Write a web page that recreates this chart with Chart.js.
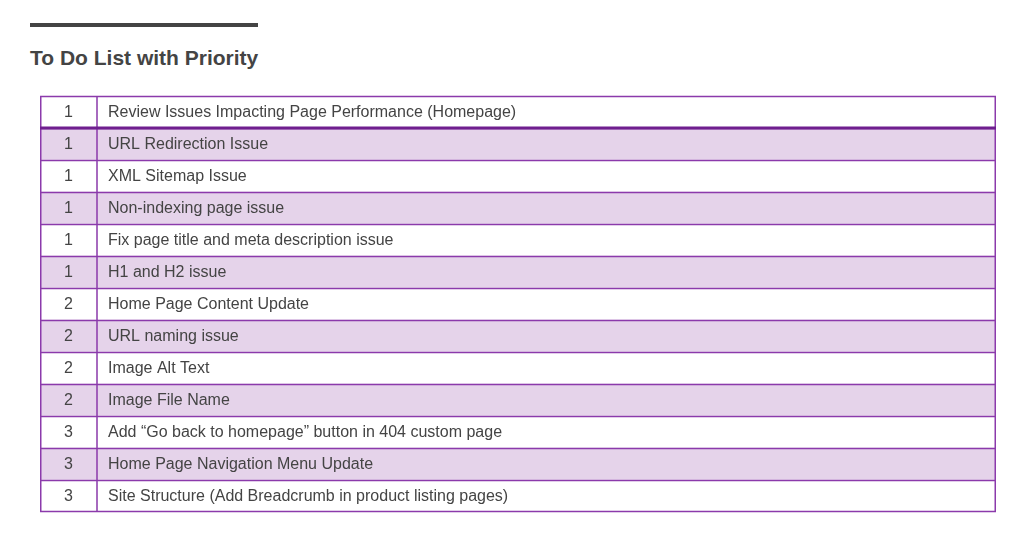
<!DOCTYPE html>
<html>
<head>
<meta charset="utf-8">
<script src="https://cdn.jsdelivr.net/npm/chart.js@4"></script>
<style>
  body { margin: 0; background: #fff; font-family: "Liberation Sans", Arial, sans-serif; }
  #rule { position: absolute; left: 30px; top: 23px; width: 228px; height: 4px; background: #444; }
  #title { position: absolute; left: 30px; top: 46px; margin: 0; font-size: 21px; font-weight: bold; color: #444; }
  #wrap { position: absolute; left: 39px; top: 95px; width: 958px; height: 418px; }
</style>
</head>
<body>
<div id="rule"></div>
<h2 id="title">To Do List with Priority</h2>
<div id="wrap"><canvas id="table"></canvas></div>
<script>
// filas de la tabla
const priorities = ["1", "1", "1", "1", "1", "1", "2", "2", "2", "2", "3", "3", "3"];
const tasks = [
  "Review Issues Impacting Page Performance (Homepage)",
  "URL Redirection Issue",
  "XML Sitemap Issue",
  "Non-indexing page issue",
  "Fix page title and meta description issue",
  "H1 and H2 issue",
  "Home Page Content Update",
  "URL naming issue",
  "Image Alt Text",
  "Image File Name",
  "Add \u201cGo back to homepage\u201d button in 404 custom page",
  "Home Page Navigation Menu Update",
  "Site Structure (Add Breadcrumb in product listing pages)"
];
const rowIds = tasks.map((t, i) => i);

const BORDER = "#8b3aab";
const STRIPE = "#e5d3ea";
const COL_SPLIT = 57; // ancho de la primera columna en px

const tablePlugin = {
  id: "tablePlugin",
  afterDatasetsDraw(chart) {
    const ctx = chart.ctx;
    const area = chart.chartArea;
    const y = chart.scales.y;
    const rowH = y.getPixelForValue(1) - y.getPixelForValue(0);
    ctx.save();
    // bordes de filas
    ctx.strokeStyle = BORDER;
    ctx.lineWidth = 1.5;
    rowIds.forEach((r) => {
      const top = y.getPixelForValue(r) - rowH / 2;
      ctx.beginPath();
      ctx.moveTo(area.left, top + 0.5);
      ctx.lineTo(area.right, top + 0.5);
      ctx.stroke();
    });
    ctx.beginPath();
    ctx.moveTo(area.left, area.bottom - 0.5);
    ctx.lineTo(area.right, area.bottom - 0.5);
    ctx.moveTo(area.left + 0.75, area.top);
    ctx.lineTo(area.left + 0.75, area.bottom);
    ctx.moveTo(area.right - 0.75, area.top);
    ctx.lineTo(area.right - 0.75, area.bottom);
    ctx.moveTo(area.left + COL_SPLIT, area.top);
    ctx.lineTo(area.left + COL_SPLIT, area.bottom);
    ctx.stroke();
    // línea gruesa bajo la primera fila
    ctx.strokeStyle = "#6f1f8f";
    ctx.lineWidth = 3;
    const hb = y.getPixelForValue(0) + rowH / 2;
    ctx.beginPath();
    ctx.moveTo(area.left, hb);
    ctx.lineTo(area.right, hb);
    ctx.stroke();
    // textos
    ctx.fillStyle = "#444";
    ctx.font = "16px 'Liberation Sans', Arial, sans-serif";
    ctx.textBaseline = "middle";
    rowIds.forEach((r) => {
      const cy = y.getPixelForValue(r) + 1;
      ctx.textAlign = "center";
      ctx.fillText(priorities[r], area.left + COL_SPLIT / 2, cy);
      ctx.textAlign = "left";
      ctx.fillText(tasks[r], area.left + COL_SPLIT + 11, cy);
    });
    ctx.restore();
  }
};

new Chart(document.getElementById("table"), {
  type: "bar",
  data: {
    labels: rowIds,
    datasets: [{
      data: rowIds.map(() => [0, 1]),
      backgroundColor: rowIds.map((r) => (r % 2 === 1 ? STRIPE : "#ffffff")),
      barPercentage: 1,
      categoryPercentage: 1,
      borderWidth: 0
    }]
  },
  options: {
    indexAxis: "y",
    responsive: true,
    maintainAspectRatio: false,
    animation: false,
    layout: { padding: { left: 1, right: 1, top: 1, bottom: 1 } },
    plugins: { legend: { display: false }, tooltip: { enabled: false } },
    scales: {
      x: { display: false, min: 0, max: 1 },
      y: { display: false }
    }
  },
  plugins: [tablePlugin]
});
</script>
</body>
</html>
